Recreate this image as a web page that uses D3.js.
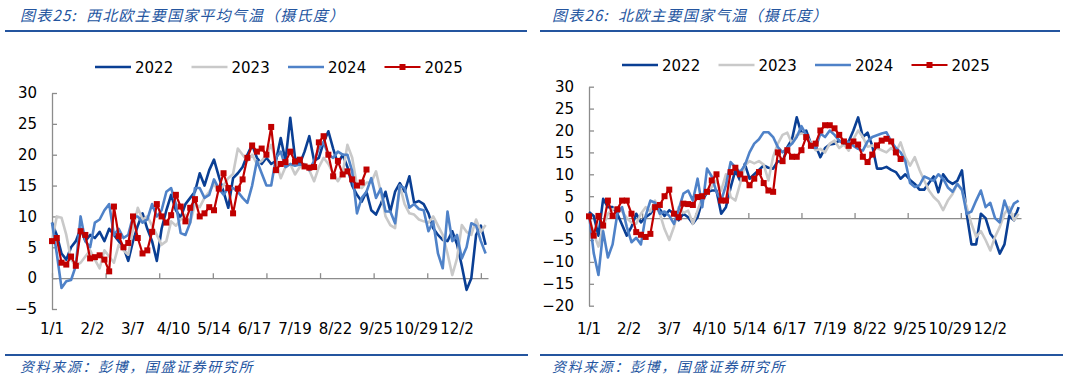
<!DOCTYPE html>
<html><head><meta charset="utf-8">
<script src="https://cdn.jsdelivr.net/npm/d3@7"></script>
<style>body{margin:0;background:#fff} svg{display:block}</style>
</head><body><svg id="c" width="1065" height="381"></svg>
<script>
// ---------- data ----------
const STEP = 4;               // day spacing between readings
const N_DAYS = 366;
const LABEL_EVERY = 34;
const TICK_EVERY = 45;
const xLabels = ["1/1","2/2","3/7","4/10","5/14","6/17","7/19","8/22","9/25","10/29","12/2"];
const seriesNames = ["2022","2023","2024","2025"];
const yTicksA = [-5,0,5,10,15,20,25,30];
const yTicksB = [-20,-15,-10,-5,0,5,10,15,20,25,30];
const titleA = "图表25:  西北欧主要国家平均气温（摄氏度）";
const titleB = "图表26:  北欧主要国家气温（摄氏度）";
const sourceText = "资料来源：彭博，国盛证券研究所";

// Chart A: north-west Europe
const a2022 = [9,7,4,3,5,6,8,6,7,6.5,7.5,6,8,7,6,5,2.8,6,8.5,10.5,8,6,2.8,8,11,13.5,11,9.8,12,13,14,17,15,17.5,19.2,16.5,14,11.4,16.2,17,18,20,21.6,19.5,18.5,19.5,18.5,19,22.7,19,26,19.5,18.5,20.5,23,19,19.5,22,23.8,21,18.5,20,18,15,13.5,12.4,14,11,10.3,12,14,10.8,14,15.4,14,16.5,12.2,12.5,12,10.5,8.1,7,6.2,6,7.6,5.5,2,-1.9,0,7,8.5,5.4];
const a2023 = [6,10,9.8,7,3,2,2.5,3.5,4.5,3,1.6,4.5,3.5,2.5,5.4,4.5,3.8,8,11.4,9.5,10,8.5,7,5.4,6,9.2,8.5,9.5,10.3,9,12,11.5,13,14,15.3,14,15,16.2,16.9,21,20,19,20,18.5,19,20,21.6,19,16.2,18,18.5,16.8,18,18.5,17.5,15.7,18,19.5,18.5,17,15.7,17,21.6,19.5,15,14.6,15.5,15.5,17.3,14,10,8.6,8.1,15,12,10.5,10.3,9.5,9.2,9,10,8.5,7,4,0.5,3.2,8.6,7.5,7,9.5,7.5,8.6];
const a2024 = [9,4,-1.6,-0.5,-0.3,2,10,6,5,9,9.5,11,12,7,8,6.5,7,10,10,9,9.5,12,10,11,14,14.6,12,7.3,7,9,14.6,14.6,13,13.5,16,14.5,13.5,14.6,14.6,14,13,12.2,15,19,17,15,15,19.5,20.5,18,18.5,18.2,18.4,18.4,17.5,19,21,22,20,19.5,20.5,20,20,17.3,10.5,13,14,16.2,13,14.5,10.8,10.8,8.9,15,14.6,11.4,12,11.2,11,7.6,9.2,4,1.6,10.8,6,7,3.2,5,8.9,8.5,6,4];
const a2025 = [6,6.5,2.5,2.2,3.5,2,7.6,7,3.2,3.4,3.7,3,1.1,11.6,6.8,5,5.7,10,6.5,4,4.5,7.5,12,10,9,10.2,13.5,11.6,9.2,11.4,12.8,10,10.5,11.5,11,14.5,17,14.6,10.5,14.5,16,19.5,21.5,20.5,21,20,24.5,17.5,18.5,18.8,20.5,18.9,19.2,18.1,17.9,18,22,23,20,16.5,19,16.8,17.3,16,15,15.5,17.6];

// Chart B: Nordic countries
const b2022 = [1.4,0.5,-4,4.4,2.5,2.5,1,-1.5,-4,-2,1,-1,0.2,1,2.5,2,0.5,1.8,1,-0.5,1,0.2,-1.3,0.2,4,5.9,6.3,6.3,1,2.5,7,10.9,8.6,12.4,9,10,11,12,11.5,11.3,13,12.8,16.2,18,23,19.3,20,17,16.5,13.9,16,16.8,17,17.7,17,17.5,20,23,18.5,19.5,16.5,11.3,11.3,11.7,11,10.5,9,10,8.7,7.8,6.5,6.5,8,9.5,5.9,10,8.5,7.8,8.5,10.9,1,-6,-6,1,0,-3.5,-5,-8.1,-6,0.5,-0.5,2.5];
const b2023 = [0.2,-3.5,-6.5,-2,1,2,2.5,1.5,0,-1,-1.3,1,2.5,1.5,4,1,-2.5,-5,-2,2.5,1.2,1.7,-1.3,1.7,4.8,6,7.1,8.6,6.3,10,4.8,4,7.8,12,13,12.5,13,12.2,8.6,14,17,19,19.5,17,19,19.3,19,17,15.5,15.8,15,17,17.7,16,16.8,15.4,18,20,18.5,16.3,16.6,16,15.5,15,16,15,17.3,14,12,13.9,11,8.6,6.3,4.8,3.8,1.8,4,5.5,7.8,6.3,2.5,-1.3,-4.3,-3,-5,-7.4,-4.3,-2,1,2.5,-0.5,1];
const b2024 = [1,-8,-13,-3,-9,-6,1,2.5,-2,-5.5,-4.5,-6,0.5,4,3.5,1,1.5,0.5,-1.3,2,5.6,6.3,4,9,2.5,11.3,9.5,6,4,7.5,12.8,11.6,10.5,12,15,17,18,19.6,19.6,18.5,16.2,15,16,17,18.5,21,19,16.2,16,19.3,18.5,20,19,17.7,17,17.4,16.5,15.8,15.4,17.5,18.5,18.9,19.3,19.6,17.5,16,15,13,8,7.1,7.5,9.5,9,8.5,10,9,7,6,7.8,6.5,1,1.5,4,6.3,2.5,3.5,0,-1,4,1,3.3,4];
const b2025 = [0.4,-4,0.5,-1.7,4,0.5,2,4,4,1,-3.2,-3.8,-4.3,-3.6,2.5,3,5,6.5,1,0.2,3.3,3.2,3,4.8,5,6,8.6,10,4,4,10.5,11.5,10,9,7.5,9,10.5,8,6.3,6,15,13,15.5,14,14,15.5,18.5,16.5,17,20,21.2,21.2,20.5,19,17.5,16.5,17.5,16.8,14,12.8,14.5,16.6,17.7,18.1,17.5,15,13.5];

// ---------- styles ----------
const colors = {"2022":"#0a3f94","2023":"#c9c9c9","2024":"#4f82c8","2025":"#c00000"};
const widths = {"2022":2.6,"2023":2.6,"2024":2.6,"2025":2.2};
const blue = "#24559f";
const numFont = "'DejaVu Sans', Verdana, sans-serif";
const cjkFont = "'Noto Sans CJK SC', sans-serif";

const svg = d3.select("#c");

function drawChart(cfg){
  const g = svg.append("g");
  // title
  g.append("text").attr("x", cfg.titleX).attr("y", 21)
    .attr("font-family", cjkFont).attr("font-size", 15).attr("font-style","italic")
    .attr("letter-spacing", 1.2).attr("xml:space","preserve").style("white-space","pre")
    .attr("fill", blue).text(cfg.title);
  g.append("line").attr("x1", cfg.lineX1).attr("x2", cfg.lineX2).attr("y1", 31).attr("y2", 31)
    .attr("stroke", blue).attr("stroke-width", 2.2);
  // footer
  g.append("line").attr("x1", cfg.lineX1).attr("x2", cfg.footX2).attr("y1", 355).attr("y2", 355)
    .attr("stroke", blue).attr("stroke-width", 2.2);
  g.append("text").attr("x", cfg.titleX).attr("y", 372)
    .attr("font-family", cjkFont).attr("font-size", 14).attr("font-style","italic")
    .attr("letter-spacing", 1.6)
    .attr("fill", blue).text(sourceText);

  const x = d3.scaleLinear().domain([0, N_DAYS]).range([cfg.x0, cfg.x1]);
  const y = d3.scaleLinear().domain(cfg.yDomain).range([cfg.yBot, cfg.yTop]);

  // y axis
  const ya = g.append("g").attr("transform", `translate(${cfg.x0},0)`)
    .call(d3.axisLeft(y).tickValues(cfg.yTicks).tickSizeInner(-5).tickSizeOuter(0).tickPadding(15));
  ya.selectAll("text").attr("font-family", numFont).attr("font-size", 15).attr("fill", "#000");
  ya.selectAll("line,path").attr("stroke", "#8c8c8c").attr("stroke-width", 1.3);

  // x axis (at y=0)
  const xa = g.append("g").attr("transform", `translate(0,${y(0)})`)
    .call(d3.axisBottom(x).tickValues(d3.range(0, N_DAYS, TICK_EVERY)).tickSizeInner(-5).tickSizeOuter(0).tickFormat(""));
  xa.selectAll("line,path").attr("stroke", "#8c8c8c").attr("stroke-width", 1.3);

  // x labels
  g.append("g").selectAll("text").data(xLabels).join("text")
    .attr("x", (d,i) => x(i * LABEL_EVERY)).attr("y", 334)
    .attr("text-anchor", "middle")
    .attr("font-family", numFont).attr("font-size", 15).attr("fill", "#000")
    .text(d => d);

  // series
  const line = d3.line().x((d,i) => x(i * STEP)).y(d => y(d));
  seriesNames.forEach((name, k) => {
    const vals = cfg.data[k];
    g.append("path").datum(vals).attr("d", line)
      .attr("fill", "none").attr("stroke", colors[name]).attr("stroke-width", widths[name])
      .attr("stroke-linejoin", "round");
    if (name === "2025") {
      g.append("g").selectAll("rect").data(vals).join("rect")
        .attr("x", (d,i) => x(i * STEP) - 3).attr("y", d => y(d) - 3)
        .attr("width", 6).attr("height", 6).attr("fill", colors[name]);
    }
  });

  // legend
  const lg = g.append("g").attr("transform", `translate(${cfg.legX},${cfg.legY})`);
  seriesNames.forEach((name, k) => {
    const gx = k * 96.5;
    lg.append("line").attr("x1", gx).attr("x2", gx + 36).attr("y1", 0).attr("y2", 0)
      .attr("stroke", colors[name]).attr("stroke-width", widths[name]);
    if (name === "2025") {
      lg.append("rect").attr("x", gx + 18 - 3).attr("y", -3).attr("width", 6).attr("height", 6)
        .attr("fill", colors[name]);
    }
    lg.append("text").attr("x", gx + 40).attr("y", 5.5)
      .attr("font-family", numFont).attr("font-size", 15).attr("fill", "#000").text(name);
  });
}

drawChart({
  title: titleA, titleX: 20, lineX1: 5, lineX2: 527, footX2: 528,
  x0: 52, x1: 488, yTop: 93, yBot: 309, yDomain: [-5, 30], yTicks: yTicksA,
  legX: 95, legY: 67, data: [a2022, a2023, a2024, a2025]
});
drawChart({
  title: titleB, titleX: 552, lineX1: 540, lineX2: 1060, footX2: 1063,
  x0: 589, x1: 1021, yTop: 86.7, yBot: 305.7, yDomain: [-20, 30], yTicks: yTicksB,
  legX: 622, legY: 65, data: [b2022, b2023, b2024, b2025]
});
</script></body></html>
